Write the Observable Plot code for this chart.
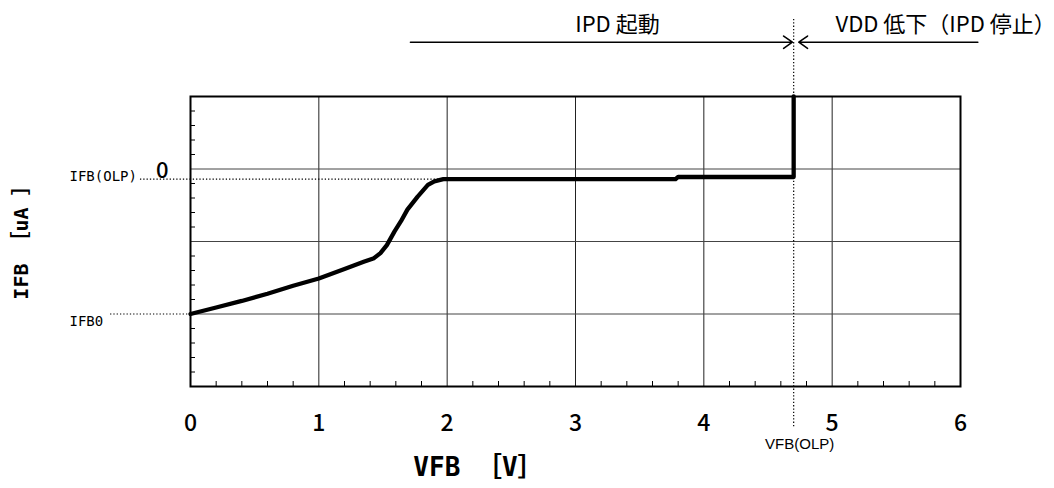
<!DOCTYPE html>
<html><head><meta charset="utf-8">
<script src="https://cdn.jsdelivr.net/npm/d3@7"></script>
<script src="https://cdn.jsdelivr.net/npm/@observablehq/plot@0.6"></script>
<style>body{margin:0;background:#fff}#chart svg{display:block}</style>
</head><body><div id="chart"></div>
<script>
// Curve IFB vs VFB
const vfb = [0, 0.2, 0.4, 0.6, 0.8, 1.0, 1.2, 1.35, 1.43, 1.48, 1.53, 1.59, 1.64, 1.69, 1.77, 1.85, 1.9, 1.97, 3.78, 3.8, 4.7, 4.7];
const ifb = [-2, -1.91, -1.82, -1.72, -1.61, -1.51, -1.38, -1.28, -1.23, -1.16, -1.05, -0.86, -0.72, -0.56, -0.38, -0.22, -0.17, -0.14, -0.14, -0.11, -0.11, 1];
const xTicks = [0, 1, 2, 3, 4, 5, 6];
const xGrid = [1, 2, 3, 4, 5];
const yGrid = [0, -1, -2];
const xMinor = d3.range(0.2, 6, 0.2).filter(v => Math.abs(v - Math.round(v)) > 1e-6);
const yMinor = d3.range(-2.8, 1, 0.2).filter(v => Math.abs(v - Math.round(v)) > 1e-6);
const vfbOLP = 4.7;
const ifbOLP = -0.14;
const ifb0 = -2;
const xTitle = "VFB ［V］";
const yTitle = "IFB ［uA ］";
const topLeftText = "IPD 起動";
const topRightText = "VDD 低下（IPD 停止）";

const curve = vfb.map((x, i) => ({x, y: ifb[i]}));
const sans = "'Noto Sans CJK JP', 'Liberation Sans', sans-serif";
const mono = "'DejaVu Sans Mono', 'Noto Sans CJK JP', monospace";

const chart = Plot.plot({
  width: 1054, height: 488,
  marginLeft: 190, marginRight: 94, marginTop: 96, marginBottom: 102,
  x: {domain: [0, 6], axis: null},
  y: {domain: [-3, 1], axis: null},
  style: {background: "#fff", fontFamily: sans, overflow: "visible"},
  marks: [
    Plot.ruleX(xGrid, {x: d => d, stroke: "#222", strokeWidth: 1}),
    Plot.ruleY(yGrid, {y: d => d, stroke: "#444", strokeWidth: 1}),
    Plot.ruleX(xMinor, {x: d => d, y1: -3, y2: -3 + 5 / 72.5, stroke: "#000", strokeWidth: 1}),
    Plot.ruleY(yMinor, {y: d => d, x1: 0, x2: 5 / 128.33, stroke: "#000", strokeWidth: 1}),
    // dotted reference lines
    Plot.ruleY([ifbOLP], {y: d => d, x1: -0.39, x2: 1.97, stroke: "#000", strokeWidth: 1.2, strokeDasharray: "1.3,2"}),
    Plot.ruleY([ifb0], {y: d => d, x1: -0.623, x2: 0, stroke: "#000", strokeWidth: 1.2, strokeDasharray: "1.3,2"}),
    Plot.ruleX([vfbOLP], {x: d => d, y1: 2.062, y2: -3.579, stroke: "#000", strokeWidth: 1.2, strokeDasharray: "1.3,2"}),
    Plot.frame({stroke: "#000", strokeWidth: 2}),
    Plot.line(curve, {x: "x", y: "y", stroke: "#000", strokeWidth: 4.3, strokeLinejoin: "round"}),
    // tick labels
    Plot.text(xTicks, {x: d => d, y: -3, dy: 37, text: d => String(d), lineAnchor: "middle", fontSize: 23, fontWeight: 500, fill: "#000"}),
    Plot.text(["0"], {x: 0, y: 0, dx: -22, dy: 2, text: d => d, textAnchor: "end", lineAnchor: "middle", fontSize: 22, fontWeight: 500, fill: "#000"}),
    Plot.text(["IFB(OLP)"], {x: -0.943, y: ifbOLP, dy: -3, text: d => d, textAnchor: "start", lineAnchor: "middle", fontSize: 14, fontFamily: mono, fill: "#000"}),
    Plot.text(["IFB0"], {x: -0.943, y: ifb0, dy: 2, text: d => d, textAnchor: "start", lineAnchor: "top", fontSize: 14, fontFamily: mono, fill: "#000"}),
    Plot.text(["VFB(OLP)"], {x: vfbOLP, y: -3, dx: 6, dy: 58, text: d => d, lineAnchor: "middle", fontSize: 15, fontFamily: "'Liberation Sans', sans-serif", fill: "#000"}),
    // axis titles
    Plot.text([xTitle], {x: 2.244, y: -4.117, text: d => d, lineAnchor: "middle", fontSize: 26, fontWeight: "bold", fontFamily: mono, fill: "#000"}),
    Plot.text([yTitle], {x: -1.317, y: -0.945, text: d => d, rotate: -90, lineAnchor: "middle", fontSize: 20, fontWeight: "bold", fontFamily: mono, fill: "#000"}),
    // top annotations
    Plot.arrow([{x1: 1.714, x2: 4.69, y: 1.749}], {x1: "x1", x2: "x2", y1: "y", y2: "y", stroke: "#000", strokeWidth: 1.6, headLength: 10, headAngle: 70, inset: 0}),
    Plot.arrow([{x1: 6.135, x2: 4.74, y: 1.749}], {x1: "x1", x2: "x2", y1: "y", y2: "y", stroke: "#000", strokeWidth: 1.6, headLength: 10, headAngle: 70, inset: 0}),
    Plot.text([topLeftText], {x: 3.327, y: 1.883, text: d => d, lineAnchor: "bottom", fontSize: 22, fill: "#000"}),
    Plot.text([topRightText], {x: 5.026, y: 1.883, text: d => d, textAnchor: "start", lineAnchor: "bottom", fontSize: 22, fill: "#000"})
  ]
});
document.getElementById("chart").appendChild(chart);
</script>
</body></html>
